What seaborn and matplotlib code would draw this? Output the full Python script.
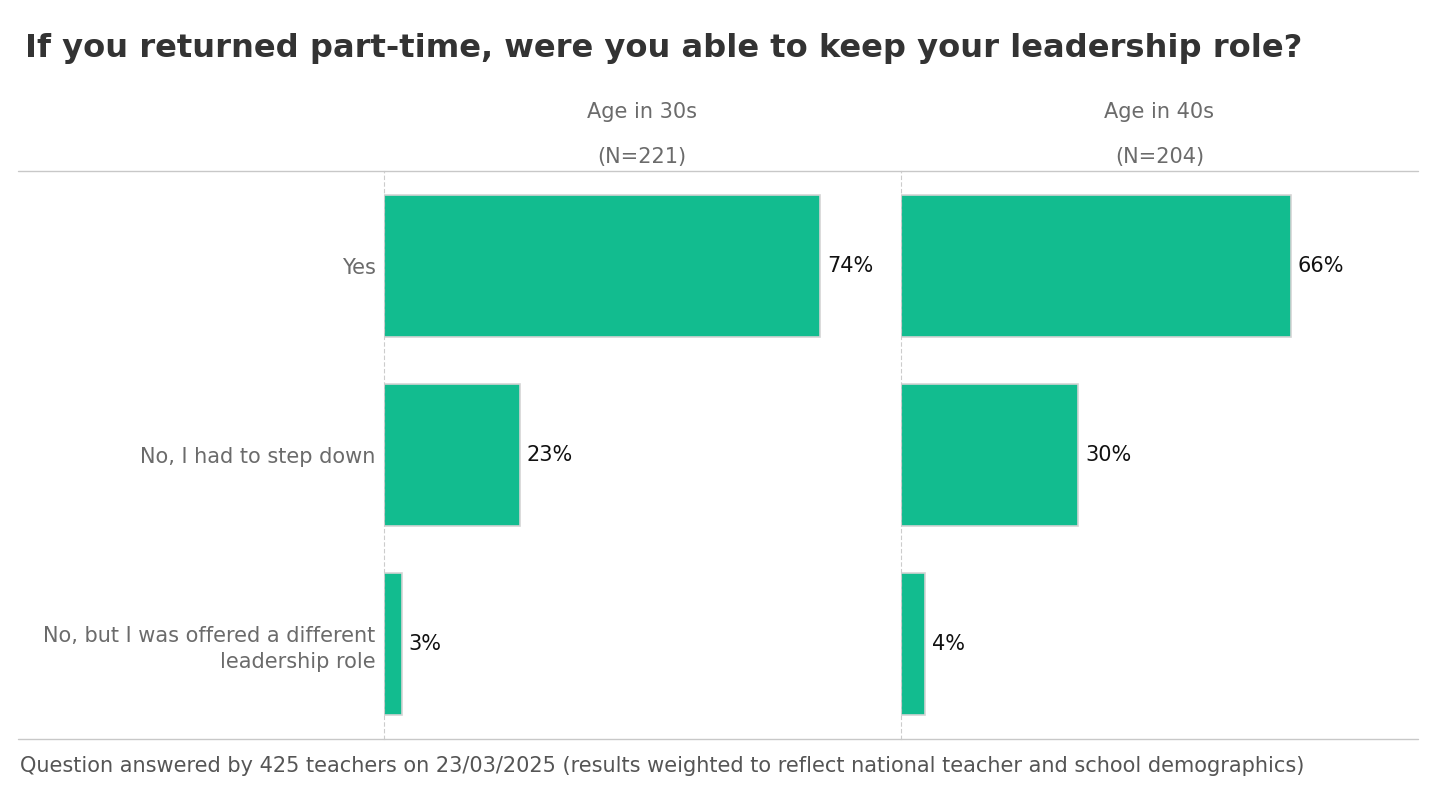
import numpy as np
import pandas as pd
import seaborn as sns
import matplotlib.pyplot as plt
from matplotlib.lines import Line2D

# data
answers = ["Yes", "No, I had to step down", "No, but I was offered a different\nleadership role"]
groups = ["Age in 30s", "Age in 40s"]
group_n = [221, 204]
pct_30s = [74, 23, 3]
pct_40s = [66, 30, 4]

BAR_COLOR = "#12bc8f"
EDGE_COLOR = "#d4d4d4"

sns.set_theme(style="white")
plt.rcParams["font.family"] = ["DejaVu Sans"]

fig = plt.figure(figsize=(14.4, 8), dpi=100)

panels = [
    (groups[0], group_n[0], pct_30s, [384 / 1440, 1 - 739 / 800, 516 / 1440, 568 / 800]),
    (groups[1], group_n[1], pct_40s, [901 / 1440, 1 - 739 / 800, 517 / 1440, 568 / 800]),
]

for i, (name, n, vals, rect) in enumerate(panels):
    ax = fig.add_axes(rect)
    df = pd.DataFrame({"answer": answers, "pct": vals})
    sns.barplot(data=df, x="pct", y="answer", ax=ax, color=BAR_COLOR,
                edgecolor=EDGE_COLOR, linewidth=1.2, width=0.75, saturation=1)
    ax.set_xlim(0, 87.5)
    ax.set_ylim(2.5, -0.5)
    ax.set_xlabel("")
    ax.set_ylabel("")
    ax.set_xticks([])
    for s in ["top", "right", "bottom"]:
        ax.spines[s].set_visible(False)
    ax.spines["left"].set_color("#cccccc")
    ax.spines["left"].set_linestyle((0, (3, 3)))
    ax.spines["left"].set_linewidth(0.8)
    if i == 0:
        ax.tick_params(axis="y", length=0, pad=6, labelsize=15, labelcolor="#6b6b6b")
        for lbl in ax.get_yticklabels():
            lbl.set_linespacing(1.35)
    else:
        ax.set_yticklabels([])
        ax.tick_params(axis="y", length=0)
    for j, v in enumerate(vals):
        ax.annotate(f"{v}%", xy=(v, j), xytext=(5, 0), textcoords="offset points",
                    ha="left", va="center", fontsize=15, color="#111111")
    ax.text(0.5, 1 + 59 / 568, name, transform=ax.transAxes, ha="center",
            va="center", fontsize=15, color="#6b6b6b")
    ax.text(0.5, 1 + 14 / 568, f"(N={n})", transform=ax.transAxes, ha="center",
            va="center", fontsize=15, color="#6b6b6b")

# horizontal rules across the full table
for y in [1 - 171 / 800, 1 - 739 / 800]:
    fig.add_artist(Line2D([18 / 1440, 1418 / 1440], [y, y], color="#c8c8c8",
                          linewidth=1.0, transform=fig.transFigure))

fig.text(25 / 1440, 1 - 48 / 800,
         "If you returned part-time, were you able to keep your leadership role?",
         ha="left", va="center", fontsize=23.1, fontweight="bold", color="#333333")
fig.text(20 / 1440, 1 - 766 / 800,
         "Question answered by 425 teachers on 23/03/2025 (results weighted to reflect national teacher and school demographics)",
         ha="left", va="center", fontsize=15, color="#555555")

fig.savefig("out.png", dpi=100, facecolor="white")
